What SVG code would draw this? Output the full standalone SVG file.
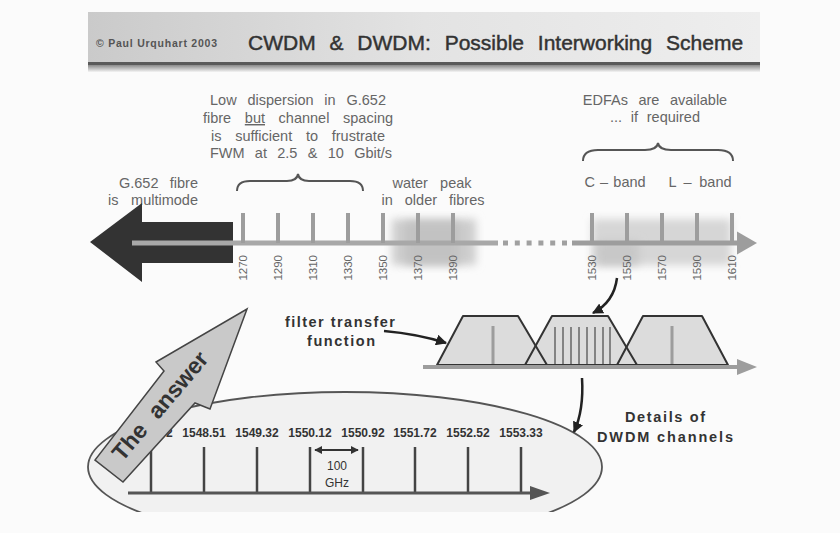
<svg xmlns="http://www.w3.org/2000/svg" width="840" height="533" viewBox="0 0 840 533">
<style>
text{font-family:"Liberation Sans",Arial,sans-serif}
.gt{font-size:14.5px;fill:#666}
.tick{stroke:#9d9d9d;stroke-width:4}
.tl{font-size:11.5px;fill:#666}
.bt{font-size:14.5px;font-weight:bold;fill:#333}
.bl{font-size:12px;font-weight:bold;fill:#333;text-anchor:middle}
.brace{fill:none;stroke:#555;stroke-width:2}
.trap{fill:#dcdcdc;stroke:none}
.trapS{fill:none;stroke:#333;stroke-width:2;stroke-linejoin:round}
.conn{fill:none;stroke:#222;stroke-width:2.5}
</style>
<defs>
<linearGradient id="hdr" x1="0" y1="0" x2="1" y2="0">
<stop offset="0" stop-color="#cacaca"/><stop offset="0.5" stop-color="#e3e3e3"/><stop offset="1" stop-color="#eeeeee"/>
</linearGradient>
<linearGradient id="hsh" x1="0" y1="0" x2="0" y2="1">
<stop offset="0" stop-color="#8a8a8a"/><stop offset="1" stop-color="#f4f4f4"/>
</linearGradient>
<filter id="blur" x="-40%" y="-60%" width="180%" height="220%"><feGaussianBlur stdDeviation="4.5"/></filter>
<marker id="ah" viewBox="0 0 10 10" refX="9" refY="5" markerWidth="11" markerHeight="11" markerUnits="userSpaceOnUse" orient="auto"><path d="M0,0 L10,5 L0,10 z" fill="#222"/></marker>
<marker id="ahs" viewBox="0 0 10 10" refX="9" refY="5" markerWidth="8" markerHeight="8" markerUnits="userSpaceOnUse" orient="auto-start-reverse"><path d="M0,0 L10,5 L0,10 z" fill="#333"/></marker>
<clipPath id="clipE"><rect x="0" y="0" width="840" height="512"/></clipPath>
</defs>
<rect x="0" y="0" width="840" height="533" fill="#fbfbfb"/>

<g id="header">
<rect x="88" y="12" width="672" height="50" fill="url(#hdr)"/>
<rect x="88" y="62" width="672" height="3" fill="#5a5a5a"/>
<rect x="88" y="65" width="672" height="7" fill="url(#hsh)"/>
<text x="96" y="47" font-size="10.5" font-weight="bold" fill="#555" textLength="121" lengthAdjust="spacing">© Paul Urquhart 2003</text>
<text x="248" y="50" font-size="21" fill="#333" stroke="#333" stroke-width="0.45" word-spacing="8">CWDM &amp; DWDM: Possible Interworking Scheme</text>
</g>

<g id="note-dispersion" text-anchor="middle">
<text class="gt" x="298" y="105" word-spacing="6.8">Low dispersion in G.652</text>
<text class="gt" x="298" y="123" word-spacing="9.6">fibre <tspan text-decoration="underline">but</tspan> channel spacing</text>
<text class="gt" x="298" y="141" word-spacing="9.7">is sufficient to frustrate</text>
<text class="gt" x="301" y="158" word-spacing="6.3">FWM at 2.5 &amp; 10 Gbit/s</text>
<path class="brace" d="M237,191 Q237,181 250,181 L287,181 Q297,181 298,174 Q299,181 309,181 L350,181 Q363,181 363,191"/>
</g>

<g id="note-edfa" text-anchor="middle">
<text class="gt" x="655" y="105" word-spacing="6.5">EDFAs are available</text>
<text class="gt" x="655" y="122" word-spacing="4.7">... if required</text>
<path class="brace" d="M583,161 Q583,150 598,150 L645,150 Q657,150 658,143 Q659,150 671,150 L718,150 Q733,150 733,161"/>
<text class="gt" x="615" y="187" word-spacing="1.2">C – band</text>
<text class="gt" x="700" y="187" word-spacing="3.6">L – band</text>
</g>

<g id="note-multimode" text-anchor="end">
<text class="gt" x="198" y="188" word-spacing="7.3">G.652 fibre</text>
<text class="gt" x="198" y="205" word-spacing="8.6">is multimode</text>
</g>

<g id="note-water" text-anchor="middle">
<text class="gt" x="432" y="188" word-spacing="8.1">water peak</text>
<text class="gt" x="433" y="205" word-spacing="8">in older fibres</text>
</g>

<g id="cwdm-axis">
<rect x="392" y="219" width="84" height="46" fill="#cdcdcd" filter="url(#blur)"/>
<rect x="405" y="222" width="55" height="42" fill="#c2c2c2" filter="url(#blur)"/>
<rect x="592" y="219" width="139" height="46" fill="#d6d6d6" filter="url(#blur)"/>
<rect x="597" y="241" width="42" height="24" fill="#c8c8c8" filter="url(#blur)"/>
<path d="M90,242 L142,203 L142,222 L233,222 L233,263 L142,263 L142,282 Z" fill="#333"/>
<line x1="132" y1="243" x2="498" y2="243" stroke="#a8a8a8" stroke-width="5"/>
<line x1="503" y1="243" x2="568" y2="243" stroke="#a0a0a0" stroke-width="5" stroke-dasharray="5 6.8"/>
<line x1="572" y1="243" x2="740" y2="243" stroke="#9d9d9d" stroke-width="5"/>
<path d="M737,231.5 L757,243 L737,254.5 Z" fill="#9d9d9d"/>
<g>
<line class="tick" x1="243" y1="213" x2="243" y2="243"/>
<line class="tick" x1="278" y1="213" x2="278" y2="243"/>
<line class="tick" x1="313" y1="213" x2="313" y2="243"/>
<line class="tick" x1="348" y1="213" x2="348" y2="243"/>
<line class="tick" x1="383" y1="213" x2="383" y2="243"/>
<line class="tick" x1="418" y1="213" x2="418" y2="243"/>
<line class="tick" x1="453" y1="213" x2="453" y2="243"/>
<line class="tick" x1="592" y1="213" x2="592" y2="243"/>
<line class="tick" x1="627" y1="213" x2="627" y2="243"/>
<line class="tick" x1="662" y1="213" x2="662" y2="243"/>
<line class="tick" x1="697" y1="213" x2="697" y2="243"/>
<line class="tick" x1="732" y1="213" x2="732" y2="243"/>
</g>
<g text-anchor="end">
<text class="tl" transform="translate(247,255) rotate(-90)">1270</text>
<text class="tl" transform="translate(282,255) rotate(-90)">1290</text>
<text class="tl" transform="translate(317,255) rotate(-90)">1310</text>
<text class="tl" transform="translate(352,255) rotate(-90)">1330</text>
<text class="tl" transform="translate(387,255) rotate(-90)">1350</text>
<text class="tl" transform="translate(422,255) rotate(-90)">1370</text>
<text class="tl" transform="translate(457,255) rotate(-90)">1390</text>
<text class="tl" transform="translate(596,255) rotate(-90)">1530</text>
<text class="tl" transform="translate(631,255) rotate(-90)">1550</text>
<text class="tl" transform="translate(666,255) rotate(-90)">1570</text>
<text class="tl" transform="translate(701,255) rotate(-90)">1590</text>
<text class="tl" transform="translate(736,255) rotate(-90)">1610</text>
</g>
</g>

<g id="filter-panel">
<polygon class="trap" points="437,365 463,316 518,316 547,365"/>
<polygon class="trap" points="525,365 552,316 608,316 637,365"/>
<polygon class="trap" points="617,365 643,316 702,316 728,365"/>
<line x1="493" y1="326" x2="493" y2="365" stroke="#9d9d9d" stroke-width="3"/>
<line x1="672" y1="326" x2="672" y2="365" stroke="#9d9d9d" stroke-width="3"/>
<g stroke="#666" stroke-width="1.5">
<line x1="555" y1="327" x2="555" y2="365"/><line x1="563" y1="327" x2="563" y2="365"/>
<line x1="571" y1="327" x2="571" y2="365"/><line x1="579" y1="327" x2="579" y2="365"/>
<line x1="587" y1="327" x2="587" y2="365"/><line x1="595" y1="327" x2="595" y2="365"/>
<line x1="603" y1="327" x2="603" y2="365"/><line x1="610" y1="327" x2="610" y2="365"/>
</g>
<polygon class="trapS" points="437,365 463,316 518,316 547,365"/>
<polygon class="trapS" points="525,365 552,316 608,316 637,365"/>
<polygon class="trapS" points="617,365 643,316 702,316 728,365"/>
<line x1="423" y1="367" x2="740" y2="367" stroke="#9d9d9d" stroke-width="4"/>
<path d="M737,359 L757,367 L737,375 Z" fill="#9d9d9d"/>
<text class="bt" x="340" y="327" text-anchor="middle" textLength="110" lengthAdjust="spacing">filter transfer</text>
<text class="bt" x="341" y="346" text-anchor="middle" textLength="68" lengthAdjust="spacing">function</text>
</g>

<g id="dwdm-ellipse">
<ellipse cx="345" cy="467" rx="257" ry="75" fill="#f1f1f1" stroke="#555" stroke-width="1.8" clip-path="url(#clipE)"/>
<g stroke="#444" stroke-width="2.5">
<line x1="151" y1="447" x2="151" y2="493"/><line x1="204" y1="447" x2="204" y2="493"/>
<line x1="257" y1="447" x2="257" y2="493"/><line x1="310" y1="447" x2="310" y2="493"/>
<line x1="363" y1="447" x2="363" y2="493"/><line x1="415" y1="447" x2="415" y2="493"/>
<line x1="468" y1="447" x2="468" y2="493"/><line x1="521" y1="447" x2="521" y2="493"/>
</g>
<line x1="128" y1="493" x2="533" y2="493" stroke="#555" stroke-width="3"/>
<path d="M530,486 L550,493 L530,500 Z" fill="#555"/>
<text class="bl" x="151" y="437">1547.72</text>
<text class="bl" x="204" y="437">1548.51</text>
<text class="bl" x="257" y="437">1549.32</text>
<text class="bl" x="310" y="437">1550.12</text>
<text class="bl" x="363" y="437">1550.92</text>
<text class="bl" x="415" y="437">1551.72</text>
<text class="bl" x="468" y="437">1552.52</text>
<text class="bl" x="521" y="437">1553.33</text>
<line x1="315" y1="450" x2="358" y2="450" stroke="#333" stroke-width="2" marker-start="url(#ahs)" marker-end="url(#ahs)"/>
<text x="337" y="470" font-size="12" fill="#333" text-anchor="middle">100</text>
<text x="337" y="487" font-size="12" fill="#333" text-anchor="middle">GHz</text>
<text class="bt" x="665" y="422" text-anchor="middle" textLength="80" lengthAdjust="spacing">Details of</text>
<text class="bt" x="665" y="442" text-anchor="middle" textLength="136" lengthAdjust="spacing">DWDM channels</text>
</g>

<g id="answer-arrow">
<polygon points="247,309 210,409 195,403 123,482 95,460 164,371 156,362" fill="#c9c9c9" stroke="#444" stroke-width="1.5" stroke-linejoin="miter"/>
<text transform="translate(166,411) rotate(-49.6)" font-size="23" font-weight="bold" fill="#333" text-anchor="middle" word-spacing="8">The answer</text>
</g>

<g id="connectors">
<path class="conn" d="M384,331 Q418,334 446,343" marker-end="url(#ah)"/>
<path class="conn" d="M617,278 Q614,302 593,313" marker-end="url(#ah)"/>
<path class="conn" d="M582,378 Q584,410 574,432" marker-end="url(#ah)"/>
</g>
</svg>
